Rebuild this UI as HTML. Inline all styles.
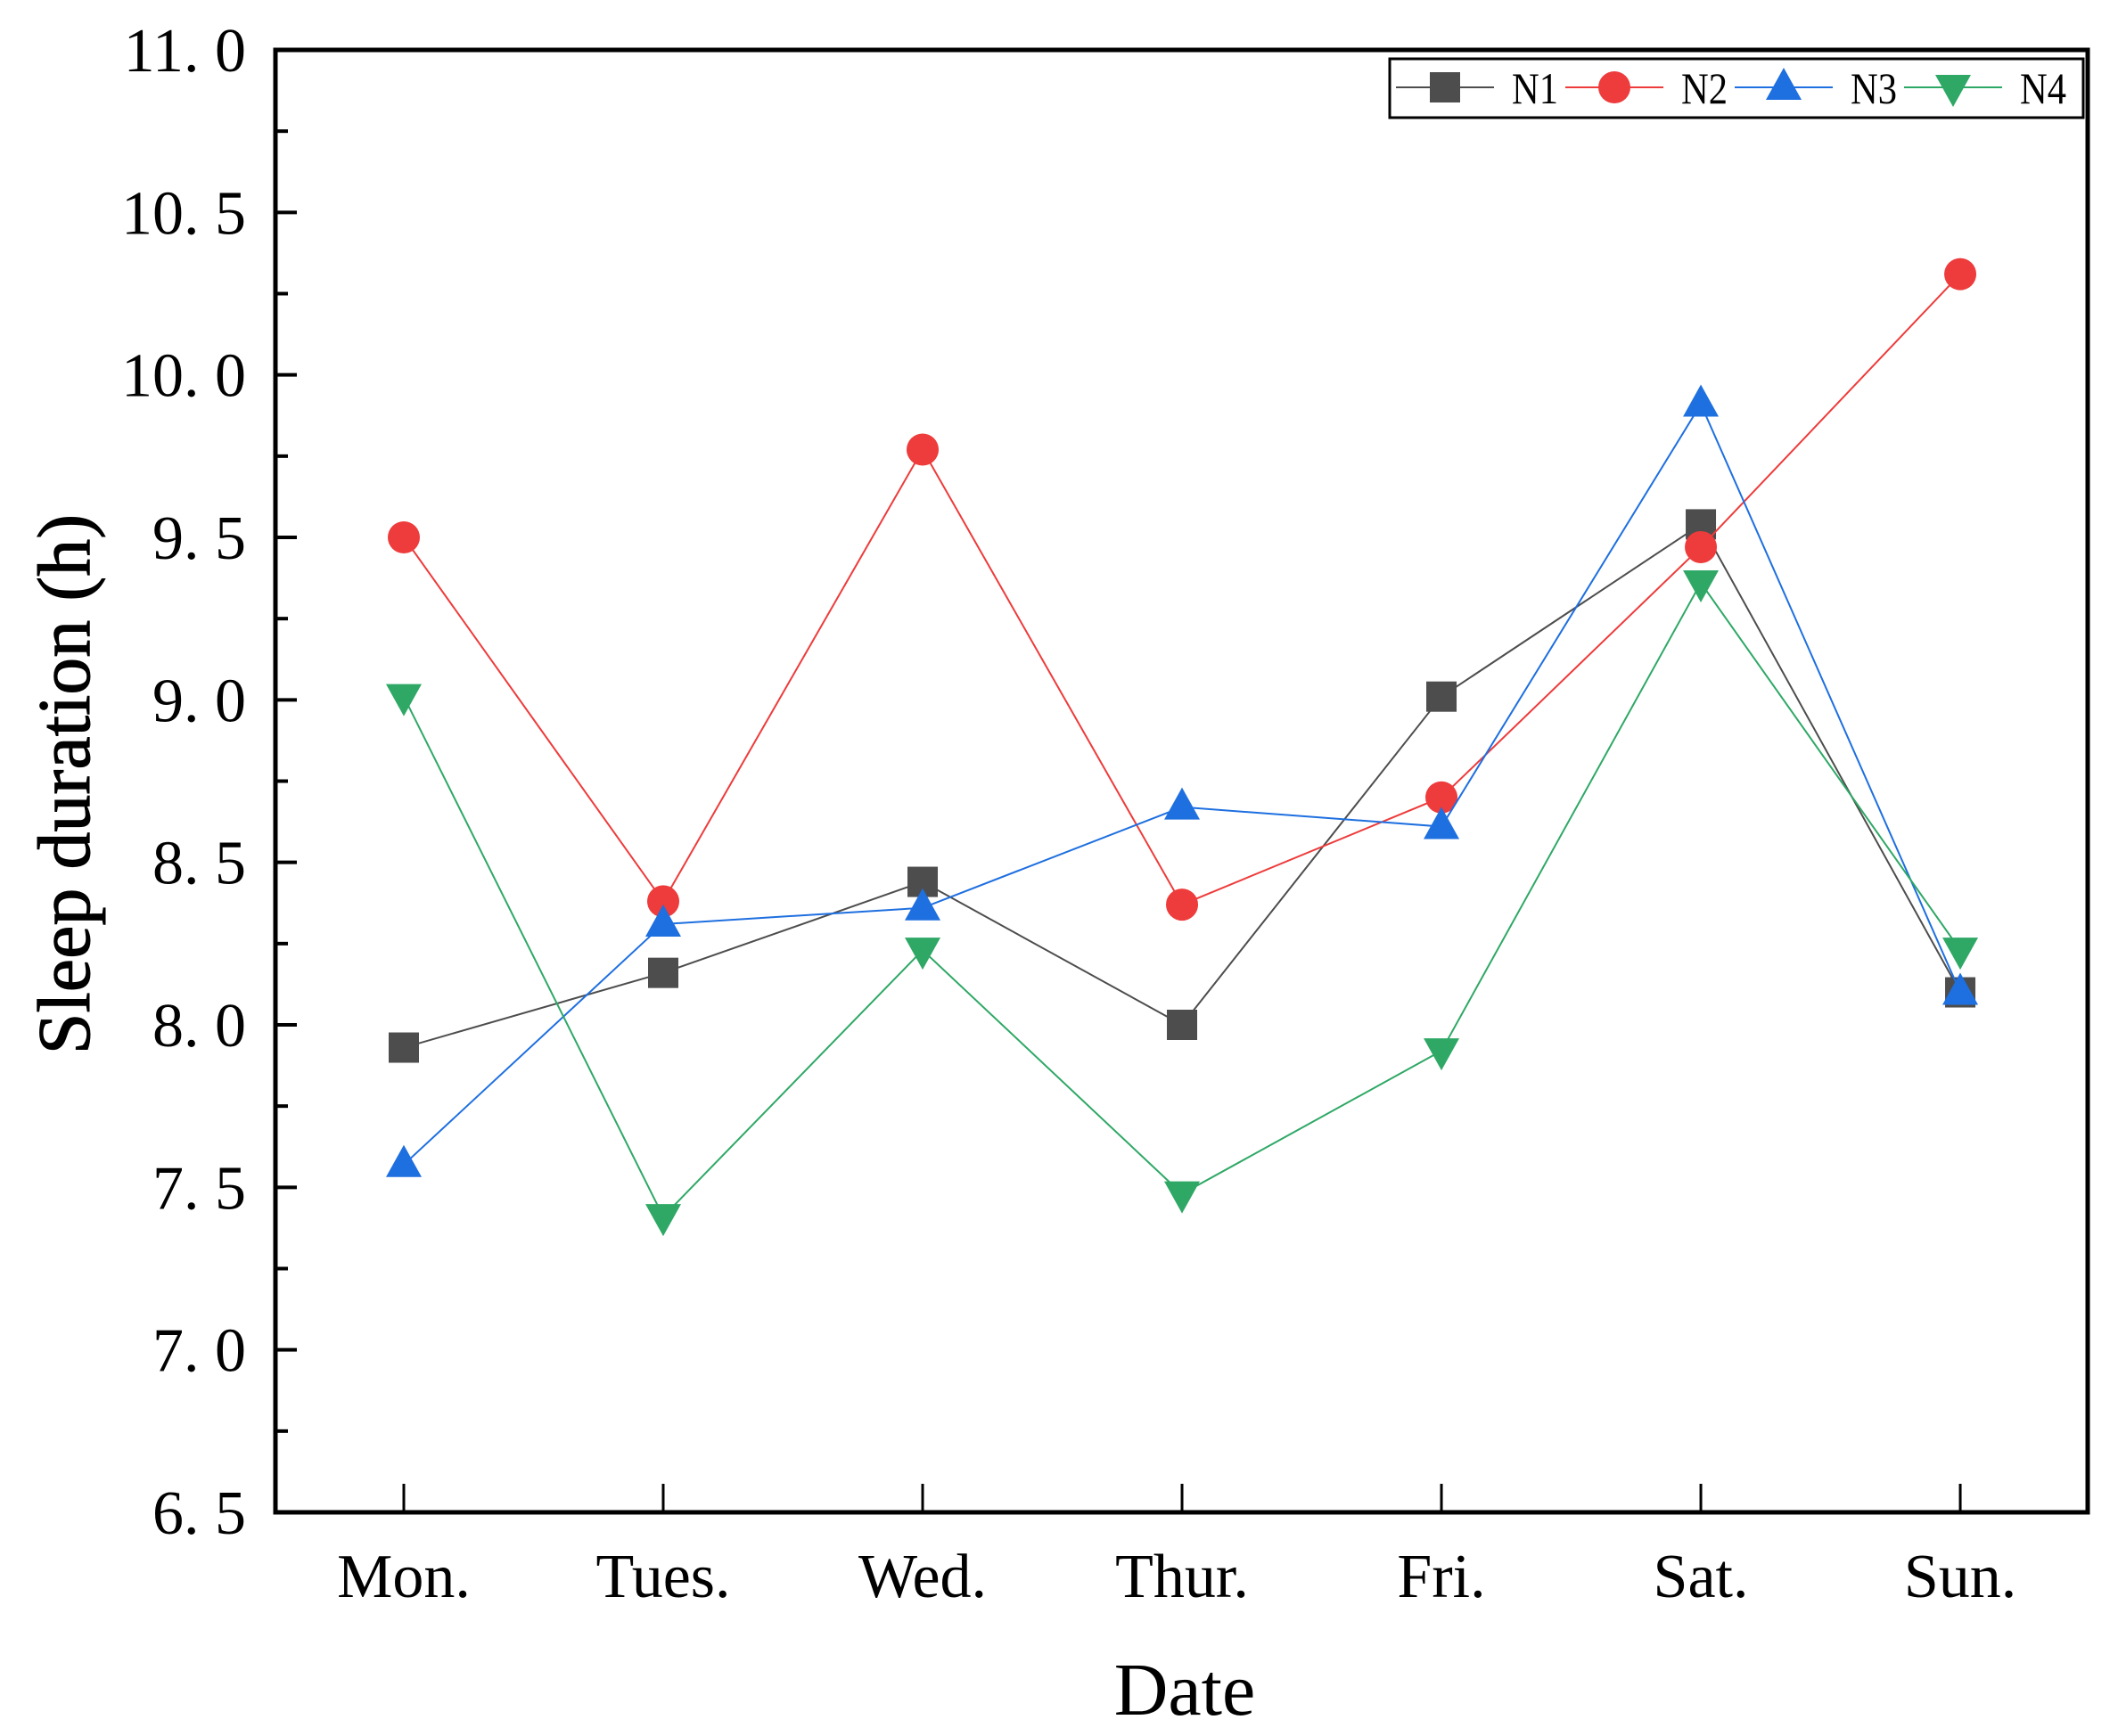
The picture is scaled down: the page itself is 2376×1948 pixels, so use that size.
<!DOCTYPE html>
<html><head><meta charset="utf-8"><style>
html,body{margin:0;padding:0;background:#fff;}
svg{display:block;}
text{font-family:"Liberation Serif","Noto Serif CJK SC",serif;fill:#000;}
</style></head><body>
<svg id="chart" width="2376" height="1948" viewBox="0 0 2376 1948" xmlns="http://www.w3.org/2000/svg">
<g id="grid-layer"></g>
</svg>
<script>
const categories = ["Mon.","Tues.","Wed.","Thur.","Fri.","Sat.","Sun."];
const seriesNames = ["N1","N2","N3","N4"];
const n1 = [7.93, 8.16, 8.44, 8.00, 9.01, 9.54, 8.10];
const n2 = [9.50, 8.38, 9.77, 8.37, 8.70, 9.47, 10.31];
const n3 = [7.57, 8.31, 8.36, 8.67, 8.61, 9.91, 8.10];
const n4 = [9.01, 7.41, 8.23, 7.48, 7.92, 9.36, 8.23];
const yTicks = [6.5, 7.0, 7.5, 8.0, 8.5, 9.0, 9.5, 10.0, 10.5, 11.0];
const yTickLabels = ["6. 5","7. 0","7. 5","8. 0","8. 5","9. 0","9. 5","10. 0","10. 5","11. 0"];

const NS = "http://www.w3.org/2000/svg";
const svg = document.getElementById("chart");
const L = 309, R = 2342, T = 56, B = 1697;
const yMin = 6.5, yMax = 11.0;
const xFirst = 453, xStep = 292;
function xScale(i){ return xFirst + i * xStep * 0.9966; }
function yScale(v){ return B - (v - yMin) / (yMax - yMin) * (B - T); }
function mk(tag, attrs, parent){
  const e = document.createElementNS(NS, tag);
  for (const k in attrs) e.setAttribute(k, attrs[k]);
  (parent || svg).appendChild(e);
  return e;
}
const colors = ["#4d4d4d", "#ee3b3b", "#1e6fe0", "#2fa866"];
const datasets = [n1, n2, n3, n4];

function marker(kind, cx, cy, color, parent){
  let e;
  if (kind === 0) e = mk("rect", {x: cx - 17, y: cy - 17, width: 34, height: 34, fill: color}, parent);
  else if (kind === 1) e = mk("circle", {cx: cx, cy: cy, r: 18, fill: color}, parent);
  else if (kind === 2) e = mk("polygon", {points: `${cx},${cy-22} ${cx+20},${cy+14} ${cx-20},${cy+14}`, fill: color}, parent);
  else e = mk("polygon", {points: `${cx},${cy+22} ${cx+20},${cy-14} ${cx-20},${cy-14}`, fill: color}, parent);
  return e;
}

datasets.forEach((d, s) => {
  const g = mk("g", {});
  
  
  const pts = d.map((v, i) => xScale(i) + "," + yScale(v)).join(" ");
  const line = mk("polyline", {points: pts, fill: "none", stroke: colors[s], "stroke-width": 2}, g);
  
  
  d.forEach((v, i) => {
    const m = marker(s, xScale(i), yScale(v), colors[s], g);
    
    
  });
});

const frame = mk("rect", {x: L, y: T, width: R - L, height: B - T, fill: "none", stroke: "#000", "stroke-width": 5});



yTicks.forEach((v, i) => {
  const y = yScale(v);
  const t = mk("line", {x1: L, x2: L + 24, y1: y, y2: y, stroke: "#000", "stroke-width": 4});
  
  
  if (i < yTicks.length - 1) {
    const ym = yScale(v + 0.25);
    const mt = mk("line", {x1: L, x2: L + 14, y1: ym, y2: ym, stroke: "#000", "stroke-width": 4});
    
    
  }
  const lab = mk("text", {x: 276, y: y + 24, "text-anchor": "end", "font-size": 70});
  lab.textContent = yTickLabels[i];
  
  
});

categories.forEach((c, i) => {
  const x = xScale(i);
  const t = mk("line", {x1: x, x2: x, y1: B, y2: B - 32, stroke: "#000", "stroke-width": 3});
  
  
  const lab = mk("text", {x: x, y: 1792, "text-anchor": "middle", "font-size": 70});
  lab.textContent = c;
  
  
});

const xt = mk("text", {x: 1329, y: 1924, "text-anchor": "middle", "font-size": 84});
xt.textContent = "Date";


const yt = mk("text", {x: 0, y: 0, "text-anchor": "middle", "font-size": 84, "stroke": "#000", "stroke-width": 1, transform: "translate(100,880) rotate(-90)"});
yt.textContent = "Sleep duration (h)";



const lg = mk("g", {});


const lb = mk("rect", {x: 1559, y: 66, width: 778, height: 66, fill: "#fff", stroke: "#000", "stroke-width": 3}, lg);


seriesNames.forEach((n, s) => {
  const ox = 1566 + 190 * s, cy = 98;
  const e = mk("g", {}, lg);
  
  
  mk("line", {x1: ox, x2: ox + 110, y1: cy, y2: cy, stroke: colors[s], "stroke-width": 2}, e);
  marker(s, ox + 55, cy, colors[s], e);
  const tx = mk("text", {x: ox + 130, y: cy + 18, "font-size": 50, "textLength": 52, "lengthAdjust": "spacingAndGlyphs"}, e);
  tx.textContent = n;
});
</script>
</body></html>
